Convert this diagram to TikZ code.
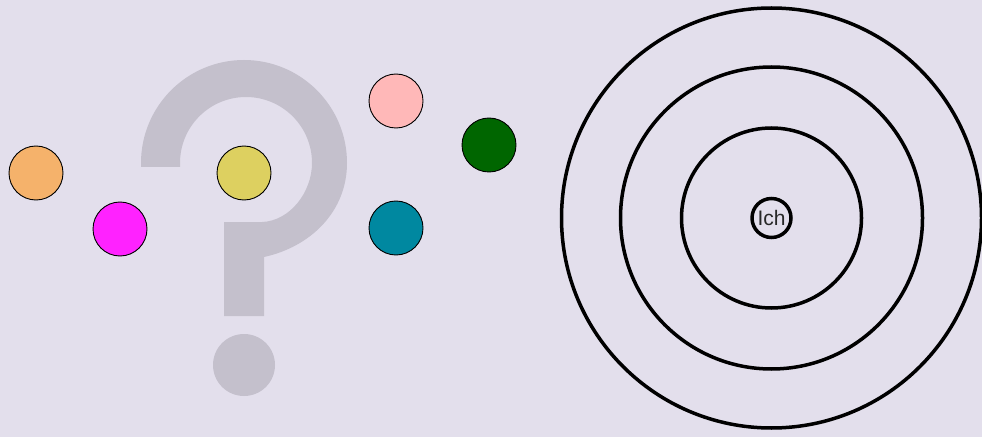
\documentclass[tikz,border=0pt]{standalone}
\usepackage{fontspec}
\setmainfont{Liberation Sans}
\definecolor{bg}{RGB}{227,223,236}
\definecolor{qgray}{RGB}{196,192,204}
\definecolor{corange}{RGB}{245,178,107}
\definecolor{cmagenta}{RGB}{255,34,255}
\definecolor{cyellow}{RGB}{221,208,96}
\definecolor{cpink}{RGB}{255,184,184}
\definecolor{cteal}{RGB}{0,136,160}
\definecolor{cgreen}{RGB}{0,102,0}
\definecolor{txt}{RGB}{40,40,40}
\begin{document}
\begin{tikzpicture}[x=1pt,y=1pt,
  dot/.style={circle,draw=black,line width=0.9pt,minimum size=54pt,inner sep=0pt},
  ring/.style={circle,draw=black,line width=3.5pt,minimum size=#1,inner sep=0pt}]
\fill[bg] (0,0) rectangle (982,437);
\useasboundingbox (0,0) rectangle (982,437);
% question mark
\fill[qgray] (141,270) -- (141,274) arc[start angle=180,end angle=0,radius=103]
  .. controls (347,225) and (310,190) .. (264,180) -- (264,121) -- (224,121) -- (224,215)
  -- (262,215) .. controls (290,216) and (312,245) .. (312,274)
  arc[start angle=0,end angle=180,radius=66] -- (180,270) -- cycle;
\fill[qgray] (244,72) circle[radius=31];
% coloured dots
\node[dot,fill=corange] (o) at (36,264) {};
\node[dot,fill=cmagenta] (m) at (120,208) {};
\node[dot,fill=cyellow] (y) at (244,264) {};
\node[dot,fill=cpink] (p) at (396,336) {};
\node[dot,fill=cteal] (t) at (396,209) {};
\node[dot,fill=cgreen] (g) at (489,292) {};
% rings
\node[ring=420pt] (r3) at (771.5,219) {};
\node[ring=302pt] (r2) at (771.5,219) {};
\node[ring=180pt] (r1) at (771.5,219) {};
\node[ring=39pt,text=txt,font=\fontsize{21}{21}\selectfont] (ich) at (771.5,219) {Ich};
\end{tikzpicture}
\end{document}
